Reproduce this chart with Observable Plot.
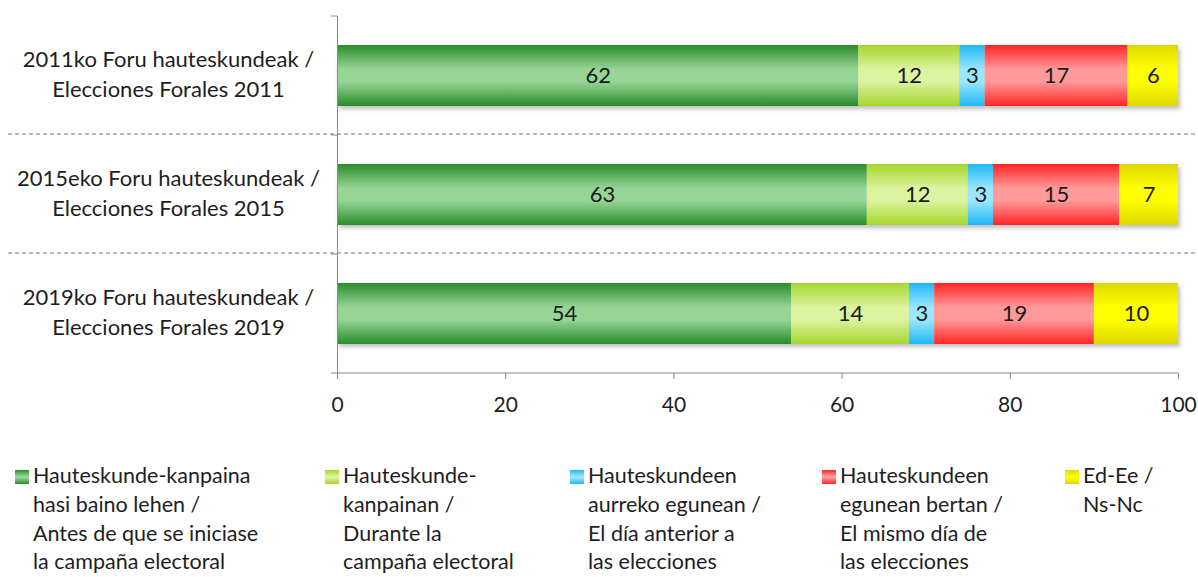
<!DOCTYPE html>
<html><head><meta charset="utf-8">
<script src="https://cdn.jsdelivr.net/npm/d3@7"></script>
<script src="https://cdn.jsdelivr.net/npm/@observablehq/plot@0.6"></script>
<style>
body{margin:0;background:#fff;font-family:Lato,sans-serif;}
#wrap{position:relative;width:1198px;height:577px;overflow:hidden;}
#legend{position:absolute;top:461px;left:0;width:1198px;}
.item{position:absolute;top:0;font-size:21.5px;line-height:28.8px;color:#1e1e1e;white-space:pre;}
.sw{position:absolute;left:0;top:9px;width:14px;height:14px;}
.txt{margin-left:18px;}
</style></head>
<body><div id="wrap"><div id="chart"></div><div id="legend"></div></div>
<script>
const years = ["2011", "2015", "2019"];
const yearLabels = [
  "2011ko Foru hauteskundeak /\nElecciones Forales 2011",
  "2015eko Foru hauteskundeak /\nElecciones Forales 2015",
  "2019ko Foru hauteskundeak /\nElecciones Forales 2019"
];
const seriesNames = [
  "Hauteskunde-kanpaina\nhasi baino lehen /\nAntes de que se iniciase\nla campaña electoral",
  "Hauteskunde-\nkanpainan /\nDurante la\ncampaña electoral",
  "Hauteskundeen\naurreko egunean /\nEl día anterior a\nlas elecciones",
  "Hauteskundeen\negunean bertan /\nEl mismo día de\nlas elecciones",
  "Ed-Ee /\nNs-Nc"
];
const values2011 = [62, 12, 3, 17, 6];
const values2015 = [63, 12, 3, 15, 7];
const values2019 = [54, 14, 3, 19, 10];
const xTicks = [0, 20, 40, 60, 80, 100];
const edgeColors = ["#2a8c2a", "#a5d62b", "#1fb8f5", "#ff2424", "#ddd800"];
const midColors = ["#97d597", "#dcf3a0", "#9be6ff", "#ff9a9a", "#ffff00"];
const legendX = [15, 325, 570, 822, 1065];

const allValues = [values2011, values2015, values2019];
const data = [];
years.forEach((y, i) => allValues[i].forEach((v, j) => data.push({year: y, series: seriesNames[j], value: v})));
const gradIds = seriesNames.map((_, i) => "grad" + i);

const chart = Plot.plot({
  width: 1198, height: 420,
  marginLeft: 337, marginRight: 20, marginTop: 16, marginBottom: 47,
  style: {fontFamily: "Lato, sans-serif", fontSize: "21px", color: "#1e1e1e", background: "white"},
  x: {domain: [0, 100]},
  y: {domain: years, paddingInner: 0.487, paddingOuter: 0.235, axis: null},
  color: {domain: seriesNames, range: gradIds.map(id => `url(#${id})`)},
  marks: [
    Plot.barX(data, {x: "value", y: "year", fill: "series"}),
    Plot.text(data, Plot.stackX({x: "value", y: "year", text: "value", fontSize: 22, fill: "#1a1a1a"})),
    Plot.ruleX([0], {stroke: "#888"}),
    Plot.axisX({ticks: xTicks, tickSize: 6, tickPadding: 18, stroke: "#888", fill: "#1e1e1e", fontSize: 21, label: null}),
    Plot.text(years, {x: () => 0, y: d => d, text: (d, i) => yearLabels[i], dx: -169, dy: -4, textAnchor: "middle", lineHeight: 1.36, fontSize: 22, fill: "#1e1e1e"})
  ]
});

const svg = d3.select(chart);
const defs = svg.insert("defs", ":first-child");
gradIds.forEach((id, i) => {
  const g = defs.append("linearGradient").attr("id", id).attr("x1", 0).attr("y1", 0).attr("x2", 0).attr("y2", 1);
  [[0, edgeColors[i]], [0.4, midColors[i]], [0.6, midColors[i]], [1, edgeColors[i]]].forEach(([o, c]) =>
    g.append("stop").attr("offset", o).attr("stop-color", c));
});
const f = defs.append("filter").attr("id", "shadow").attr("x", "-5%").attr("y", "-20%").attr("width", "110%").attr("height", "150%");
f.append("feDropShadow").attr("dx", 2).attr("dy", 3).attr("stdDeviation", 2).attr("flood-color", "#000").attr("flood-opacity", 0.25);
svg.select('g[aria-label="bar"]').attr("filter", "url(#shadow)");

const sx = chart.scale("x"), sy = chart.scale("y");
const gap = (sy.step - sy.bandwidth) / 2;
const bounds = years.map(y => sy.apply(y) - gap);
bounds.push(sy.apply(years[years.length - 1]) + sy.bandwidth + gap);
const x0 = sx.apply(0), x1 = sx.apply(100);
const deco = svg.append("g").attr("stroke", "#888").attr("fill", "none");
deco.append("line").attr("x1", x0).attr("x2", x1).attr("y1", bounds[bounds.length - 1]).attr("y2", bounds[bounds.length - 1]);
bounds.forEach(b => deco.append("line").attr("x1", x0 - 6).attr("x2", x0).attr("y1", b).attr("y2", b));
bounds.slice(1, -1).forEach(b => deco.append("line").attr("x1", 8).attr("x2", 1196).attr("y1", b - 1).attr("y2", b - 1).attr("stroke-dasharray", "4,3").attr("stroke", "#777"));

document.getElementById("chart").appendChild(chart);

const legend = d3.select("#legend");
seriesNames.forEach((s, i) => {
  const it = legend.append("div").attr("class", "item").style("left", legendX[i] + "px");
  it.append("div").attr("class", "sw").style("background", `linear-gradient(${edgeColors[i]}, ${midColors[i]} 45%, ${midColors[i]} 55%, ${edgeColors[i]})`);
  it.append("div").attr("class", "txt").text(s);
});
</script>
</body></html>
